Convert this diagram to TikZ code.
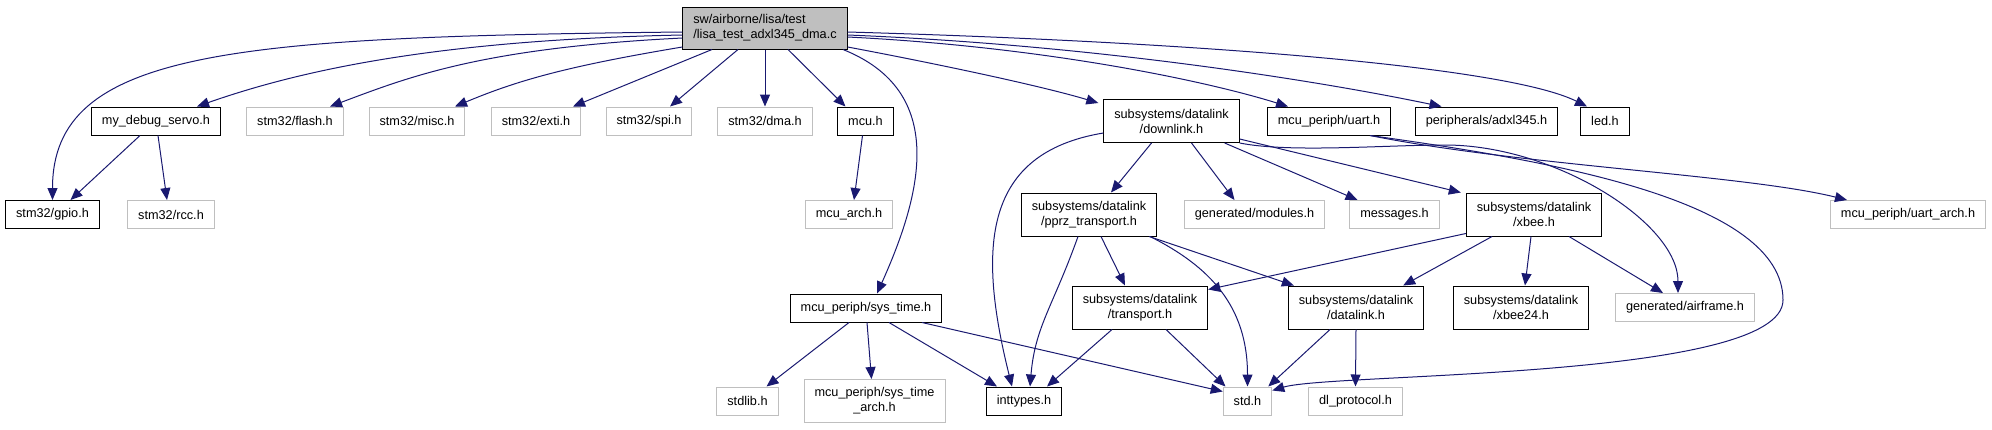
\documentclass[tikz,border=0pt]{standalone}
\usepackage{fontspec}
\setmainfont{Liberation Sans}
\usetikzlibrary{arrows.meta}
\definecolor{edgeblue}{HTML}{191970}
\definecolor{boxgrey}{HTML}{BFBFBF}
\begin{document}
\begin{tikzpicture}[x=1pt,y=-1pt,>={Triangle[length=12pt,width=10pt]},line width=1pt,
  font=\fontsize{12.7}{15}\selectfont,
  hdr/.style={draw=black,fill=white,inner xsep=10.5pt,inner ysep=0pt,minimum height=28pt,align=center},
  ext/.style={hdr,draw=boxgrey},
  two/.style={minimum height=43pt},
  inc/.style={->,draw=edgeblue}]
  \useasboundingbox (0,0) rectangle (1992,429);

  % top file
  \node[hdr,fill=boxgrey,align=left,minimum height=42pt] (root) at (765,28)
    {sw/airborne/lisa/test\\/lisa\_test\_adxl345\_dma.c};

  % first row
  \node[hdr] (servo) at (156,121) {my\_debug\_servo.h};
  \node[ext] (flash) at (295,121) {stm32/flash.h};
  \node[ext] (misc) at (417,121) {stm32/misc.h};
  \node[ext] (exti) at (536,121) {stm32/exti.h};
  \node[ext] (spi) at (649,121) {stm32/spi.h};
  \node[ext] (dma) at (765,121) {stm32/dma.h};
  \node[hdr] (mcu) at (865.5,121) {mcu.h};
  \node[hdr,two] (downlink) at (1171.5,121) {subsystems/datalink\\/downlink.h};
  \node[hdr] (uart) at (1329,121) {mcu\_periph/uart.h};
  \node[hdr] (adxl) at (1486.5,121) {peripherals/adxl345.h};
  \node[hdr] (led) at (1605,121) {led.h};

  % second row
  \node[hdr] (gpio) at (52.5,214.5) {stm32/gpio.h};
  \node[ext] (rcc) at (171,214.5) {stm32/rcc.h};
  \node[ext] (mcuarch) at (849,214.5) {mcu\_arch.h};
  \node[hdr,two] (pprz) at (1089,214.5) {subsystems/datalink\\/pprz\_transport.h};
  \node[ext] (modules) at (1254.5,214.5) {generated/modules.h};
  \node[ext] (messages) at (1394.5,214.5) {messages.h};
  \node[hdr,two] (xbee) at (1534,214.5) {subsystems/datalink\\/xbee.h};
  \node[ext] (uartarch) at (1908,214.5) {mcu\_periph/uart\_arch.h};

  % third row
  \node[hdr] (systime) at (866,308) {mcu\_periph/sys\_time.h};
  \node[hdr,two] (transport) at (1140,307.5) {subsystems/datalink\\/transport.h};
  \node[hdr,two] (datalink) at (1356,307.5) {subsystems/datalink\\/datalink.h};
  \node[hdr,two] (xbeetf) at (1521,307.5) {subsystems/datalink\\/xbee24.h};
  \node[ext] (airframe) at (1685,307.5) {generated/airframe.h};

  % bottom row
  \node[ext] (stdlib) at (747.5,401) {stdlib.h};
  \node[ext,two] (systimearch) at (874.5,401) {mcu\_periph/sys\_time\\\_arch.h};
  \node[hdr] (inttypes) at (1024,401) {inttypes.h};
  \node[ext] (std) at (1247.5,401) {std.h};
  \node[ext] (dlproto) at (1355.5,401) {dl\_protocol.h};

  \coordinate (dlbend) at (1445,145);
  \coordinate (stdbend) at (1783,300);

  % includes of the top file
  \draw[inc] ([yshift=-4pt]root.west) .. controls +(-450,5) and +(0,-150) .. (gpio.north);
  \draw[inc] ([yshift=-7pt]root.west) .. controls +(-250,5) and +(100,-35) .. ([xshift=41pt]servo.north);
  \draw[inc] ([yshift=-10pt]root.west) .. controls +(-200,10) and +(80,-30) .. ([xshift=35pt]flash.north);
  \draw[inc] ([yshift=-19pt]root.west) .. controls +(-120,20) and +(60,-25) .. ([xshift=38pt]misc.north);
  \draw[inc] ([xshift=-53pt]root.south) -- ([xshift=37pt]exti.north);
  \draw[inc] ([xshift=-27pt]root.south) -- ([xshift=21pt]spi.north);
  \draw[inc] (root.south) -- (dma.north);
  \draw[inc] ([xshift=23pt]root.south) -- ([xshift=-20pt]mcu.north);
  \draw[inc] ([xshift=78pt]root.south) .. controls +(105,42) and +(45,-100) .. ([xshift=11pt]systime.north);
  \draw[inc] ([yshift=-19pt]root.east) .. controls +(80,15) and +(-60,-18) .. ([xshift=-5pt,yshift=-4pt]downlink.north west);
  \draw[inc] ([yshift=-9pt]root.east) .. controls +(200,10) and +(-80,-25) .. ([xshift=-41pt]uart.north);
  \draw[inc] ([yshift=-7pt]root.east) .. controls +(250,10) and +(-120,-25) .. ([xshift=-45pt]adxl.north);
  \draw[inc] ([yshift=-4pt]root.east) .. controls +(350,10) and +(-80,-40) .. ([xshift=-18pt]led.north);

  % second level
  \draw[inc] ([xshift=-16pt]servo.south) -- ([xshift=18pt]gpio.north);
  \draw[inc] ([xshift=2pt]servo.south) -- ([xshift=-4pt]rcc.north);
  \draw[inc] ([xshift=-3pt]mcu.south) -- ([xshift=5pt]mcuarch.north);
  \draw[inc] ([yshift=-12pt]downlink.west) .. controls +(-120,20) and +(-35,-140) .. ([xshift=-12pt]inttypes.north);
  \draw[inc] ([xshift=-20pt]downlink.south) -- ([xshift=22pt]pprz.north);
  \draw[inc] ([xshift=20pt]downlink.south) -- ([xshift=-20pt]modules.north);
  \draw[inc] ([xshift=-15pt]downlink.south east) -- ([xshift=-37pt]messages.north);
  \draw[inc] ([yshift=-18pt]downlink.east) -- ([xshift=-5pt]xbee.north west);
  \draw[inc] (downlink.south east) .. controls +(50,10) and +(-60,0) .. (dlbend)
    .. controls +(110,0) and +(0,-70) .. ([xshift=-7pt]airframe.north);
  \draw[inc] ([xshift=41pt]uart.south) .. controls +(150,30) and +(-100,-25) .. ([xshift=-61pt]uartarch.north);
  \draw[inc] ([xshift=41pt]uart.south) .. controls +(180,25) and +(0,-100) .. (stdbend)
    .. controls +(0,80) and +(60,-18) .. ([yshift=-4pt]std.north east);

  % transports
  \draw[inc] ([xshift=12pt]pprz.south) -- ([xshift=-15pt]transport.north);
  \draw[inc] ([xshift=-11pt]pprz.south) .. controls +(-25,70) and +(5,-60) .. ([xshift=6pt]inttypes.north);
  \draw[inc] ([xshift=61pt]pprz.south) .. controls +(60,30) and +(0,-80) .. (std.north);
  \draw[inc] ([xshift=-8pt]pprz.south east) -- ([xshift=6pt]datalink.north west);
  \draw[inc] ([yshift=3pt]xbee.south west) -- ([yshift=-4pt]transport.north east);
  \draw[inc] ([xshift=-42pt]xbee.south) -- ([xshift=-21pt]datalink.north east);
  \draw[inc] ([xshift=-3pt]xbee.south) -- ([xshift=4pt]xbeetf.north);
  \draw[inc] ([xshift=35pt]xbee.south) -- ([xshift=-22pt]airframe.north);
  \draw[inc] ([xshift=-28pt]transport.south) -- ([xshift=23pt]inttypes.north);
  \draw[inc] ([xshift=26pt]transport.south) -- ([xshift=-22pt]std.north);
  \draw[inc] ([xshift=-26pt]datalink.south) -- ([xshift=-4pt]std.north east);
  \draw[inc] (datalink.south) -- (dlproto.north);

  % sys_time
  \draw[inc] ([xshift=-17pt]systime.south) -- ([xshift=19pt]stdlib.north);
  \draw[inc] ([xshift=1pt]systime.south) -- ([xshift=-3pt]systimearch.north);
  \draw[inc] ([xshift=23pt]systime.south) -- ([xshift=-27pt]inttypes.north);
  \draw[inc] ([xshift=56pt]systime.south) -- ([yshift=-5pt]std.north west);
\end{tikzpicture}
\end{document}
